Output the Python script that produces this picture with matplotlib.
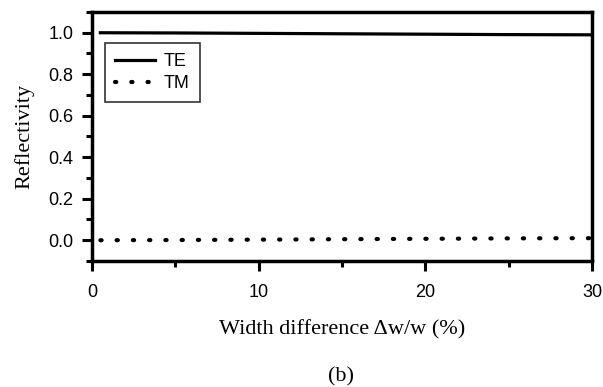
import matplotlib.pyplot as plt
from matplotlib.ticker import MultipleLocator

# values
width_diff = [0.5, 5, 10, 15, 20, 25, 30]
te_refl = [1.0, 0.999, 0.997, 0.995, 0.993, 0.991, 0.99]
tm_refl = [0.0, 0.001, 0.003, 0.005, 0.007, 0.009, 0.01]

fig = plt.figure(figsize=(6.03, 3.87), dpi=100)
ax = fig.add_axes([0.1526, 0.3256, 0.8292, 0.6434])

ax.plot(width_diff, te_refl, color='black', lw=2.3, label='TE')
ax.plot(width_diff, tm_refl, color='black', lw=3.0, ls=(0, (0.3, 3.6)),
        dash_capstyle='round', label='TM')

ax.set_xlim(0, 30)
ax.set_ylim(-0.1, 1.1)
ax.xaxis.set_major_locator(MultipleLocator(10))
ax.xaxis.set_minor_locator(MultipleLocator(5))
ax.yaxis.set_minor_locator(MultipleLocator(0.1))
ax.set_yticks([0.0, 0.2, 0.4, 0.6, 0.8, 1.0])
ax.set_yticklabels(['0.0', '0.2', '0.4', '0.6', '0.8', '1.0'])

for s in ax.spines.values():
    s.set_linewidth(2.5)
ax.tick_params(which='major', direction='out', length=7.5, width=2.2,
               labelsize=13, pad=6)
ax.tick_params(which='minor', direction='out', length=4, width=2.2)
ax.tick_params(axis='x', pad=9)
for lab in ax.get_xticklabels() + ax.get_yticklabels():
    lab.set_family('Liberation Sans')

ax.set_ylabel('Reflectivity', family='Liberation Serif', fontsize=16, labelpad=10)
ax.set_xlabel('Width difference \u0394w/w (%)', family='Liberation Serif',
              fontsize=16, labelpad=14)

leg = ax.legend(loc='upper left', bbox_to_anchor=(0.026, 0.875),
                borderaxespad=0,
                prop={'family': 'Liberation Sans', 'size': 13},
                frameon=True, fancybox=False, handlelength=2.2,
                borderpad=0.55, labelspacing=0.3, handletextpad=0.5)
leg.get_frame().set_edgecolor('black')
leg.get_frame().set_linewidth(1.2)

fig.text(0.565, 0.026, '(b)', family='Liberation Serif', fontsize=16,
         ha='center', va='center')

fig.savefig('out.png', dpi=100)
